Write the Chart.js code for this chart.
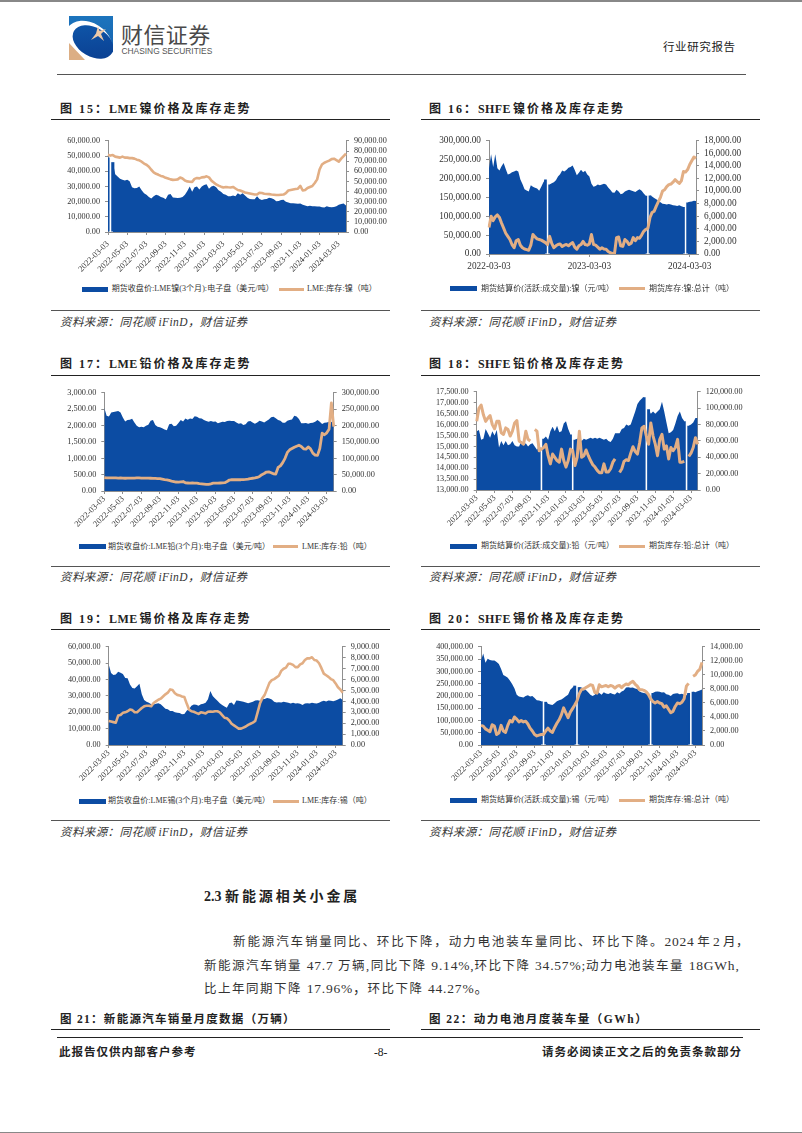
<!DOCTYPE html>
<html>
<head>
<meta charset="utf-8">
<script src="https://cdn.jsdelivr.net/npm/chart.js@4/dist/chart.umd.min.js"></script>
<style>
html,body{margin:0;padding:0;background:#fff;}
#page{position:relative;width:802px;height:1133px;overflow:hidden;font-family:"Liberation Serif","Noto Sans CJK SC",serif;color:#222;}
#page canvas{position:absolute;}
.t{position:absolute;white-space:nowrap;line-height:1;transform:translateY(calc(-50% + 1px));}
.rule{position:absolute;height:1px;background:#222;}
.title{font-size:12px;font-weight:700;letter-spacing:2px;}
.title b{letter-spacing:.4px;margin-right:2px;}
.src{font-size:11.5px;font-style:italic;letter-spacing:.4px;color:#333;}
.leg{font-size:8px;color:#333;}
.body{font-size:12.5px;color:#333;}
.body i{font-style:normal;font-size:13.5px;letter-spacing:.8px;}
.foot{font-size:11.5px;font-weight:700;letter-spacing:1px;}
.sw{position:absolute;}
</style>
</head>
<body>
<div id="page">
  <div class="rule" style="left:0;top:0;width:802px;height:1.5px;background:#888"></div>
  <div class="rule" style="left:0;top:1131.5px;width:802px;height:1.5px;background:#888"></div>

  <svg style="position:absolute;left:69px;top:16px" width="44" height="44" viewBox="0 0 44 44">
    <defs>
      <linearGradient id="lg" x1="0" y1="0" x2="0" y2="1"><stop offset="0" stop-color="#1c74bd"/><stop offset="1" stop-color="#1560ac"/></linearGradient>
      <linearGradient id="dk" x1="0" y1="0" x2="1" y2="1"><stop offset="0" stop-color="#0f58ab"/><stop offset="1" stop-color="#0a3d8f"/></linearGradient>
      <clipPath id="sq"><rect width="44" height="44"/></clipPath>
    </defs>
    <g clip-path="url(#sq)">
      <rect width="44" height="44" fill="url(#lg)"/>
      <path d="M0 24 L0 44 L44 44 L44 36 L30 40Z" fill="#fff"/>
      <ellipse cx="20" cy="25" rx="25" ry="18" transform="rotate(32 20 25)" fill="#fff"/>
      <ellipse cx="24" cy="26" rx="22" ry="14.500" transform="rotate(30 24 26)" fill="url(#dk)"/>
      <path d="M0 27 L0 44 L16 44Z" fill="#dcae84"/>
      <path d="M29 10 L30.500 15 L37 13 L32 18 L35 25 L29 20 L22 24 L27 17.500Z" fill="#ecc9a8"/>
    </g>
  </svg>
  <div class="t" style="left:121px;top:32px;font-family:'Noto Sans CJK SC';font-size:22px;letter-spacing:.4px;color:#4a4a4a">财信证券</div>
  <div class="t" style="left:121.500px;top:49.500px;font-family:'Liberation Sans';font-size:8.400px;color:#555">CHASING SECURITIES</div>
  <div class="t" style="left:663px;top:47px;font-size:11.500px;letter-spacing:.6px">行业研究报告</div>
  <div class="rule" style="left:57px;top:73.500px;width:689px;height:1.500px;background:#555"></div>

  <div class="t title" style="left:60px;top:107.500px">图 15：<b>LME</b>镍价格及库存走势</div>
  <div class="rule" style="left:51px;top:119px;width:339px"></div>
  <div class="t title" style="left:429px;top:107.500px">图 16：<b>SHFE</b>镍价格及库存走势</div>
  <div class="rule" style="left:421px;top:119px;width:339px"></div>
  <div class="rule" style="left:51px;top:310px;width:339px;background:#555"></div>
  <div class="rule" style="left:421px;top:310px;width:339px;background:#555"></div>
  <div class="t src" style="left:60px;top:322px">资料来源：同花顺 iFinD，财信证券</div>
  <div class="t src" style="left:429px;top:322px">资料来源：同花顺 iFinD，财信证券</div>

  <div class="t title" style="left:60px;top:362.500px">图 17：<b>LME</b>铅价格及库存走势</div>
  <div class="rule" style="left:51px;top:374.500px;width:339px"></div>
  <div class="t title" style="left:429px;top:362.500px">图 18：<b>SHFE</b>铅价格及库存走势</div>
  <div class="rule" style="left:421px;top:374.500px;width:339px"></div>
  <div class="rule" style="left:51px;top:566px;width:339px;background:#555"></div>
  <div class="rule" style="left:421px;top:566px;width:339px;background:#555"></div>
  <div class="t src" style="left:60px;top:577px">资料来源：同花顺 iFinD，财信证券</div>
  <div class="t src" style="left:429px;top:577px">资料来源：同花顺 iFinD，财信证券</div>

  <div class="t title" style="left:60px;top:617.500px">图 19：<b>LME</b>锡价格及库存走势</div>
  <div class="rule" style="left:51px;top:629px;width:339px"></div>
  <div class="t title" style="left:429px;top:617.500px">图 20：<b>SHFE</b>锡价格及库存走势</div>
  <div class="rule" style="left:421px;top:629px;width:339px"></div>
  <div class="rule" style="left:51px;top:820px;width:339px;background:#555"></div>
  <div class="rule" style="left:421px;top:820px;width:339px;background:#555"></div>
  <div class="t src" style="left:60px;top:832px">资料来源：同花顺 iFinD，财信证券</div>
  <div class="t src" style="left:429px;top:832px">资料来源：同花顺 iFinD，财信证券</div>

  <div class="t" style="left:204px;top:895.500px;font-size:14px;font-weight:700;letter-spacing:2.900px"><span style="letter-spacing:0">2.3 </span>新能源相关小金属</div>
  <div class="t body" style="left:233px;top:940.500px;letter-spacing:1.880px">新能源汽车销量同比、环比下降，动力电池装车量同比、环比下降。<span style="letter-spacing:.5px;word-spacing:-1px"><i>2024</i> 年 <i>2</i> 月，</span></div>
  <div class="t body" style="left:204px;top:964.500px;letter-spacing:1.500px">新能源汽车销量 <i>47.7</i> 万辆,同比下降 <i>9.14%,</i>环比下降 <i>34.57%;</i>动力电池装车量 <i>18GWh,</i></div>
  <div class="t body" style="left:204px;top:987.500px;letter-spacing:1.500px">比上年同期下降 <i>17.96%，</i>环比下降 <i>44.27%。</i></div>

  <div class="t title" style="left:60px;top:1018.500px;font-size:11.500px;letter-spacing:1.300px">图 21：新能源汽车销量月度数据（万辆）</div>
  <div class="rule" style="left:51px;top:1029px;width:339px"></div>
  <div class="t title" style="left:429px;top:1018.500px;font-size:11.500px;letter-spacing:1.500px">图 22：动力电池月度装车量（GWh）</div>
  <div class="rule" style="left:421px;top:1029px;width:339px"></div>

  <div class="rule" style="left:57px;top:1036.500px;width:686px;height:1.500px"></div>
  <div class="t foot" style="left:59px;top:1051.500px">此报告仅供内部客户参考</div>
  <div class="t" style="left:374px;top:1051.500px;font-size:11.500px">-8-</div>
  <div class="t foot" style="left:542px;top:1051.500px">请务必阅读正文之后的免责条款部分</div>
</div>
<script>
// tick labels
var monthTicks = ['2022-03-03','2022-05-03','2022-07-03','2022-09-03','2022-11-03','2023-01-03','2023-03-03','2023-05-03','2023-07-03','2023-09-03','2023-11-03','2024-01-03','2024-03-03'];
var yearTicks = ['2022-03-03','2023-03-03','2024-03-03'];

// fig 15 LME nickel
var price15 = [49000,null,46000,38000,36500,35000,34500,34000,34500,33500,
29500,28800,29000,30000,27500,25500,24500,23000,22000,23500,
24500,24000,23000,22500,21500,24500,25000,22800,22600,22400,
22500,23000,24500,27000,30000,26500,29500,30000,28000,30000,
31000,31500,28500,30000,30500,29500,27500,26500,25000,24500,
23500,23500,24000,23500,25500,24500,25500,24000,22500,21800,
21500,21500,23500,21800,21000,21500,21800,22500,22300,21500,
20300,20500,21000,21200,20000,19500,19000,18900,18800,18600,
18700,18000,17500,17000,17300,17000,16900,16800,16800,16300,
16200,16900,16400,16300,16400,17000,18000,18400,18700,17500];
var stock15 = [76500,75500,76000,74500,74000,73500,74500,73500,73500,73000,
73000,72500,71500,70800,69500,67600,66500,64500,61500,59000,
57500,56500,55400,54800,53500,52800,52000,51500,51600,52000,
53800,52800,50800,50000,49700,49500,52500,53300,53000,54000,
54200,55000,54000,50800,49000,47000,45800,44800,44000,44500,
44200,44000,44500,43000,41500,41000,40000,39000,38500,38000,
37500,37000,37000,38800,38500,37800,37500,37400,37000,36800,
36500,36500,36800,37000,38500,41000,41500,42000,42500,42800,
45500,41000,41500,43500,44500,45500,48400,52000,61800,66700,
68500,69500,70500,72000,72400,71000,69500,72500,75000,77500];

// fig 16 SHFE nickel
var price16 = [227000,264000,230000,264000,227000,221000,232000,241000,225000,210000,
212000,216000,218000,221000,218000,197000,185000,171000,168000,165000,
182000,178000,175000,173000,167000,178000,190000,197000,null,184000,
187000,190000,195000,205000,211000,221000,218000,222000,228000,230000,
234000,222000,208000,215000,223000,216000,220000,210000,205000,186000,
178000,180000,184000,182000,184000,186000,184000,176000,170000,163000,
162000,170000,165000,158000,160000,165000,168000,170000,168000,166000,
164000,168000,171000,167000,160000,154000,null,155000,152000,148000,
145000,141000,137000,133000,132000,131000,132000,131000,129000,128000,
127000,129000,126000,124000,null,136000,138000,139000,141000,140000];
var stock16 = [4200,6000,5300,5900,6200,5800,4900,4100,3300,2800,
2300,1500,1000,2100,2300,1400,1000,800,700,600,
1400,3100,2700,2400,2300,2200,2000,1800,1500,2800,
1700,1000,1300,1500,1600,1200,1400,1500,1300,1600,
1800,1100,770,1300,1500,2000,1500,1400,1600,3100,
1500,1400,1100,770,1000,800,770,400,200,100,
0,2600,2700,1300,1200,2300,2000,1500,1700,2600,
2100,2600,2500,3000,3600,3900,4100,5800,6600,6800,
7600,8300,9000,10000,10200,10700,11000,11100,11400,11800,
11500,11200,11600,13100,13000,13400,14200,14800,15400,15200];

// fig 17 LME lead
var price17 = [2550,2300,2280,2400,2420,2430,2450,2400,2250,2130,
2170,2180,2210,2100,2000,1950,1970,1950,2000,2030,
2150,2170,2020,1970,1950,1920,1880,1860,2040,2060,
1980,2000,2080,2170,2130,2220,2180,2220,2200,2290,
2270,2230,2220,2170,2140,2120,2140,2120,2130,2070,
2100,2120,2110,2140,2150,2140,2140,2100,2060,2070,
2020,2040,2130,2140,2100,2060,2100,2150,2130,2100,
2140,2190,2260,2270,2230,2170,2150,2090,2090,2150,
2170,2190,2300,2280,2200,2070,2070,2080,2060,2080,
2090,2120,2170,2120,2050,2090,2100,2120,2110,2150];
var stock17 = [41000,40000,40000,40000,40000,40000,39500,40000,39500,39000,
39500,39500,39500,39500,40000,40000,39500,39500,39500,39500,
39000,38500,38500,38000,38000,36500,35000,34000,32500,30500,
29000,27500,27000,28000,29000,25000,24500,24000,24500,24000,
24000,22500,22000,21000,20000,20500,22000,24000,24000,24000,
24500,25000,25500,29000,33500,34500,34500,34500,34500,34500,
35000,35500,36500,38000,39000,40000,41500,44500,50000,53500,
58000,58500,56000,52500,52000,72000,77000,87000,100000,118000,
126000,130000,134000,137000,140000,136000,129000,128000,135000,129000,
116000,110000,109000,130000,177000,172000,178000,189000,270000,197000];

// fig 18 SHFE lead
var price18 = [15700,15750,15300,15350,15800,15600,15400,15700,15500,15750,
14950,15250,15050,15250,15050,15100,15250,15050,15000,15000,
15250,15050,15150,15000,15100,15150,15000,14850,14950,null,
15350,15450,15300,15700,15900,15700,15950,15650,15700,16050,
16150,15800,15550,null,15300,15350,15400,15250,15350,15300,
15350,15400,15350,15400,15350,15400,15350,15300,15350,15250,
15200,15350,15600,15600,15600,15800,15850,16000,15950,16000,
16300,16600,16950,17100,17200,17250,null,16700,16500,16600,
16500,16600,16700,17050,16600,16100,15600,15650,15750,16050,
16400,16600,16300,16150,null,15950,16000,16100,16300,16300];
var stock18 = [84000,100000,104000,92000,84000,88000,91000,80000,75000,84000,
84000,70000,68000,76000,74000,66000,72000,82000,85000,60000,
58000,56000,72000,62000,60000,null,74000,72000,48000,50000,
52000,56000,42000,32000,44000,40000,36000,34000,50000,36000,
28000,36000,50000,48000,30000,40000,72000,40000,42000,49000,
42000,36000,31000,28000,24000,21000,21000,32000,22000,22000,
26000,34000,38000,null,21500,26000,35000,37000,36000,45000,
53000,47000,44000,58000,76000,78000,66000,56000,82000,66000,
56000,42000,62000,68000,50000,54000,38000,52000,48000,52000,
62000,34000,34000,35000,null,41000,45000,52000,64000,56000];

// fig 19 LME tin
var price19 = [49200,44000,42800,43200,44800,44200,43500,41000,40800,37000,
34800,34500,36000,37500,31000,27500,26500,25800,25000,24800,
25200,25500,25000,23500,22200,21800,20800,20800,20000,19800,
19500,18800,18900,21000,22000,24000,24800,24600,24000,25000,
25200,25800,28000,33000,30000,28500,27000,25500,24500,23500,
22800,25500,26000,24500,27200,27000,26800,26400,26000,25600,
26000,26400,27200,27400,27000,28000,28200,28800,28400,27800,
26400,26000,26200,26000,26400,26200,25800,25400,25800,25400,
25600,25200,24400,25400,25600,25400,25800,25600,25400,25800,
26600,27000,26600,27200,27000,26800,27200,27800,28600,27600];
var stock19 = [2200,2150,2100,2050,2700,2750,2950,3000,3100,3250,
3200,3000,3000,3200,3400,3550,3600,3600,3550,3850,
4000,4150,4250,4450,4650,4800,5100,5050,4750,4600,
4550,4450,4400,3800,3250,3100,3050,2950,2850,3000,
2950,2900,3050,3080,3050,3100,3100,3000,2750,2500,
2450,2250,1950,1800,1650,1500,1500,1600,1700,1850,
1950,2050,2200,3000,3800,4300,4600,5150,5700,5950,
6050,6200,6350,6800,7000,7100,7450,7450,7350,7150,
7150,7400,7500,7800,7950,7950,8050,7800,7750,7500,
7050,6550,6400,6250,6050,5950,5650,5300,5100,4800];

// fig 20 SHFE tin
var price20 = [345000,373000,335000,352000,347000,345000,345000,338000,330000,310000,
285000,280000,274000,262000,248000,230000,205000,198000,196000,194000,
200000,203000,198000,200000,192000,182000,181000,178000,null,176000,
168000,165000,163000,170000,178000,183000,186000,192000,199000,205000,
225000,235000,242000,null,236000,234000,230000,224000,215000,205000,
200000,205000,221000,212000,205000,215000,210000,208000,212000,208000,
206000,215000,210000,218000,222000,234000,236000,233000,235000,230000,
228000,218000,214000,212000,210000,208000,null,212000,217000,218000,
217000,214000,215000,207000,205000,200000,208000,210000,211000,207000,
209000,205000,203000,212000,null,217000,215000,219000,222000,226000];
var stock20 = [2800,2700,2300,2100,1900,2900,2700,1500,1700,2800,
2000,1800,2800,3500,3300,4000,3700,3300,3500,3300,
3400,3000,2400,2000,1500,1300,1400,1500,1500,2000,
2400,2000,1800,2500,3100,3600,4300,5300,4600,3900,
4700,5200,5700,6300,7300,7900,8000,8200,8400,8600,
8500,7500,7400,8600,8300,8400,8500,8300,8500,8400,
8100,8400,8500,8200,8500,8700,8600,8900,9100,8700,
8400,7900,7900,7800,7600,7200,6600,6200,6000,6200,
6000,5900,5400,5600,5100,4600,4800,5500,6000,5900,
6100,6600,8400,8800,null,9800,10000,10500,10800,11800];

var priceNames = ['期货收盘价:LME镍(3个月):电子盘（美元/吨）','期货结算价(活跃:成交量):镍（元/吨）','期货收盘价:LME铅(3个月):电子盘（美元/吨）','期货结算价(活跃:成交量):铅（元/吨）','期货收盘价:LME锡(3个月):电子盘（美元/吨）','期货结算价(活跃:成交量):锡（元/吨）'];
var stockNames = ['LME:库存:镍（吨）','期货库存:镍:总计（吨）','LME:库存:铅（吨）','期货库存:铅:总计（吨）','LME:库存:锡（吨）','期货库存:锡:总计（吨）'];

var BLUE = '#0c4ca3';
var TAN = '#e2ae84';
var AXIS = '#8f8f8f';

function money(v){
    return v.toLocaleString('en-US',{minimumFractionDigits:2,maximumFractionDigits:2});
}

function legendItem(color,x,y,w,h){
    var d = document.createElement('div');
    d.className = 'sw';
    d.style.cssText = 'left:'+x+'px;top:'+Math.round(y-h/2)+'px;width:'+w+'px;height:'+h+'px;background:'+color;
    document.getElementById('page').appendChild(d);
}
function legendText(text,x,y,ls){
    var d = document.createElement('div');
    d.className = 't leg';
    d.style.left = x+'px';
    d.style.top = y+'px';
    d.style.letterSpacing = ls+'px';
    d.textContent = text;
    document.getElementById('page').appendChild(d);
}

function drawChart(c){
    var boxLeft = c.side=='l' ? 52 : 422;
    var boxWidth = c.side=='l' ? 345 : 340;
    var boxTop = c.top-8;
    var boxHeight = c.bottom-boxTop+46;
    var cv = document.createElement('canvas');
    cv.width = boxWidth;
    cv.height = boxHeight;
    cv.style.left = boxLeft+'px';
    cv.style.top = boxTop+'px';
    document.getElementById('page').appendChild(cv);
    var xIdx = c.price.map(function(v,i){return i;});
    // a null in a filled line opens two categories, so the points beside a gap
    // also get a bar: this brings the white slit down to the width in the picture
    var beside = c.price.map(function(v,i){
        return (c.price[i-1]===null || c.price[i+1]===null) ? v : null;
    });
    return new Chart(cv,{
        type:'line',
        data:{
            labels:xIdx,
            datasets:[
                {label:stockNames[c.n],data:c.stock,yAxisID:'y2',borderColor:TAN,borderWidth:c.lw,borderJoinStyle:'round',pointRadius:0,tension:0,spanGaps:false,order:0},
                {label:priceNames[c.n],data:c.price,yAxisID:'y',borderWidth:0,backgroundColor:BLUE,fill:'start',pointRadius:0,tension:0,spanGaps:false,order:1},
                {type:'bar',data:beside,yAxisID:'y',backgroundColor:BLUE,barPercentage:1.3,categoryPercentage:1,order:2}
            ]
        },
        options:{
            responsive:false,
            animation:false,
            layout:{padding:{top:8,left:0,right:0,bottom:0}},
            plugins:{legend:{display:false},tooltip:{enabled:false}},
            scales:{
                x:{
                    offset:false,
                    grid:{drawOnChartArea:false,offset:false,color:AXIS,tickLength:3},
                    border:{color:AXIS},
                    afterBuildTicks:function(s){s.ticks = s.ticks.filter(function(t){return t.value%c.every==0;});},
                    afterFit:function(s){s.height = 46;},
                    ticks:{
                        autoSkip:false,
                        minRotation:c.rot,maxRotation:c.rot,padding:c.xp,
                        font:{family:'Liberation Serif',size:c.rot?8.5:9.3},color:'#333',
                        callback:function(v){return c.ticks[v/c.every];}
                    }
                },
                y:{
                    position:'left',min:c.yr[0],max:c.yr[1],
                    grid:{drawOnChartArea:false,color:AXIS,tickLength:3},
                    border:{color:AXIS},
                    afterFit:function(s){s.width = c.left-boxLeft;},
                    ticks:{autoSkip:false,stepSize:c.yr[2],padding:5,font:{family:'Liberation Serif',size:c.fs},color:'#333',callback:money}
                },
                y2:{
                    position:'right',min:c.y2r[0],max:c.y2r[1],
                    grid:{drawOnChartArea:false,color:AXIS,tickLength:3},
                    border:{color:AXIS},
                    afterFit:function(s){s.width = boxLeft+boxWidth-c.right;},
                    ticks:{autoSkip:false,stepSize:c.y2r[2],padding:5,font:{family:'Liberation Serif',size:c.fs},color:'#333',callback:money}
                }
            }
        }
    });
}

drawChart({n:0,side:'l',left:108,right:346,top:139,bottom:232.7,price:price15,stock:stock15,yr:[0,60000,10000],y2r:[0,90000,10000],ticks:monthTicks,every:8,rot:45,xp:4,lw:2.6,fs:8.2});
drawChart({n:1,side:'r',left:489,right:696,top:138.3,bottom:255,price:price16,stock:stock16,yr:[0,300000,50000],y2r:[0,18000,2000],ticks:yearTicks,every:48,rot:0,xp:4,lw:3,fs:9.3});
drawChart({n:2,side:'l',left:104.3,right:333.7,top:390.7,bottom:490.7,price:price17,stock:stock17,yr:[0,3000,500],y2r:[0,300000,50000],ticks:monthTicks,every:8,rot:45,xp:0,lw:2.8,fs:8.3});
drawChart({n:3,side:'r',left:476.7,right:697.7,top:390.3,bottom:490.3,price:price18,stock:stock18,yr:[13000,17500,500],y2r:[0,120000,20000],ticks:monthTicks,every:8,rot:45,xp:0,lw:3,fs:8.2});
drawChart({n:4,side:'l',left:108.7,right:342.7,top:645.3,bottom:745.3,price:price19,stock:stock19,yr:[0,60000,10000],y2r:[0,9000,1000],ticks:monthTicks,every:8,rot:45,xp:0,lw:2.6,fs:8.2});
drawChart({n:5,side:'r',left:481,right:702,top:645,bottom:745.3,price:price20,stock:stock20,yr:[0,400000,50000],y2r:[0,14000,2000],ticks:monthTicks,every:8,rot:45,xp:0,lw:3,fs:8.2});

// legends sit under each plot
legendItem(BLUE,82,289,25.5,5);  legendText(priceNames[0],111.7,288,.05);  legendItem(TAN,279,289,25,3);  legendText(stockNames[0],307,288,.05);
legendItem(BLUE,450,288.7,27,5); legendText(priceNames[1],481,287.7,.05);  legendItem(TAN,619,288.7,26,3);legendText(stockNames[1],649,287.7,.05);
legendItem(BLUE,78.7,546.7,27,5);legendText(priceNames[2],108,545.7,.05);  legendItem(TAN,272.7,546.7,25.5,3);legendText(stockNames[2],302,545.7,.05);
legendItem(BLUE,450,546.3,27,5); legendText(priceNames[3],481,545.3,.05);  legendItem(TAN,619,546.3,26,3);legendText(stockNames[3],649,545.3,.05);
legendItem(BLUE,78.7,801.3,27,5);legendText(priceNames[4],108,800.3,.05);  legendItem(TAN,273,801.3,26,3);legendText(stockNames[4],302,800.3,.05);
legendItem(BLUE,450,800,27,5);   legendText(priceNames[5],481,799,.05);    legendItem(TAN,619,800,26,3);  legendText(stockNames[5],649,799,.05);
</script>
</body>
</html>
